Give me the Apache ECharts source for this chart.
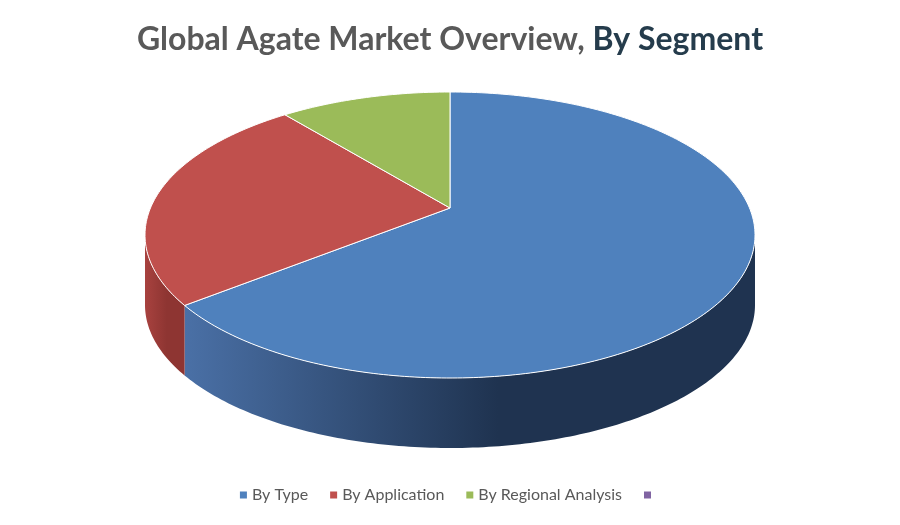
<!DOCTYPE html>
<html><head><meta charset="utf-8">
<script src="https://cdn.jsdelivr.net/npm/echarts@6/dist/echarts.min.js"></script>
<style>html,body{margin:0;padding:0;background:#fff}#c{width:900px;height:525px}</style>
</head><body><div id="c"></div>
<script>
const categories = ['By Type', 'By Application', 'By Regional Analysis', ' '];
const values = [66.8, 24.1, 9.1, 0];
const colors = ['#4f81bd', '#c0504d', '#9bbb59', '#8064a2'];
const sideColors = [
  ['#4a70a6', '#1f3350'],
  ['#a8423f', '#8e3532'],
  ['#7f9a48', '#6a8239'],
  ['#6a5288', '#5a4574']
];
const chart = echarts.init(document.getElementById('c'));
const total = values.reduce((a, b) => a + b, 0);
const CX = 450, CY = 235, RX = 305, RY = 143, DEPTH = 70, APEX_Y = 208;
function pt(deg, dy) {
  const r = deg * Math.PI / 180;
  return [CX + RX * Math.cos(r), CY + RY * Math.sin(r) + (dy || 0)];
}
function arc(a, b, dy) {
  const pts = []; const n = Math.max(2, Math.ceil((b - a) / 1));
  for (let i = 0; i <= n; i++) pts.push(pt(a + (b - a) * i / n, dy));
  return pts;
}
function makeRender(idx) {
  return function (params, api) {
    let before = 0; for (let i = 0; i < idx; i++) before += values[i];
    const a0 = -90 + before / total * 360, a1 = -90 + (before + values[idx]) / total * 360;
    const children = [];
    if (a1 - a0 <= 0) return { type: 'group', children };
    const s = Math.max(a0, 0), e = Math.min(a1, 180);
    if (s < e) {
      const top = arc(s, e, 0), bot = arc(s, e, DEPTH).reverse();
      children.push({
        type: 'polygon', z2: 1,
        shape: { points: top.concat(bot) },
        style: { fill: new echarts.graphic.LinearGradient(0, 0, 1, 0, [
          { offset: 0, color: sideColors[idx][0] }, { offset: 0.55, color: sideColors[idx][1] }, { offset: 1, color: sideColors[idx][1] }]) }
      });
    }
    children.push({
      type: 'polygon', z2: 10,
      shape: { points: [[CX, APEX_Y]].concat(arc(a0, a1, 0)) },
      style: { fill: colors[idx], stroke: '#ffffff', lineWidth: 1 }
    });
    return { type: 'group', children };
  };
}
chart.setOption({
  animation: false,
  color: colors,
  title: {
    text: '{a|Global Agate Market Overview, }{b|By Segment}',
    left: 'center', top: 19,
    textStyle: { rich: {
      a: { fontFamily: 'Lato', fontWeight: 'bold', fontSize: 32, color: '#595959' },
      b: { fontFamily: 'Lato', fontWeight: 'bold', fontSize: 32, color: '#253c4c' } } }
  },
  legend: {
    data: categories, bottom: 17, left: 'center', icon: 'rect', itemWidth: 7, itemHeight: 7, itemGap: 22,
    textStyle: { fontFamily: 'Lato', fontSize: 16, color: '#595959' }
  },
  series: categories.map((name, i) => ({
    type: 'custom', name, coordinateSystem: 'none',
    itemStyle: { color: colors[i] },
    data: [values[i]], renderItem: makeRender(i)
  }))
});
</script></body></html>
